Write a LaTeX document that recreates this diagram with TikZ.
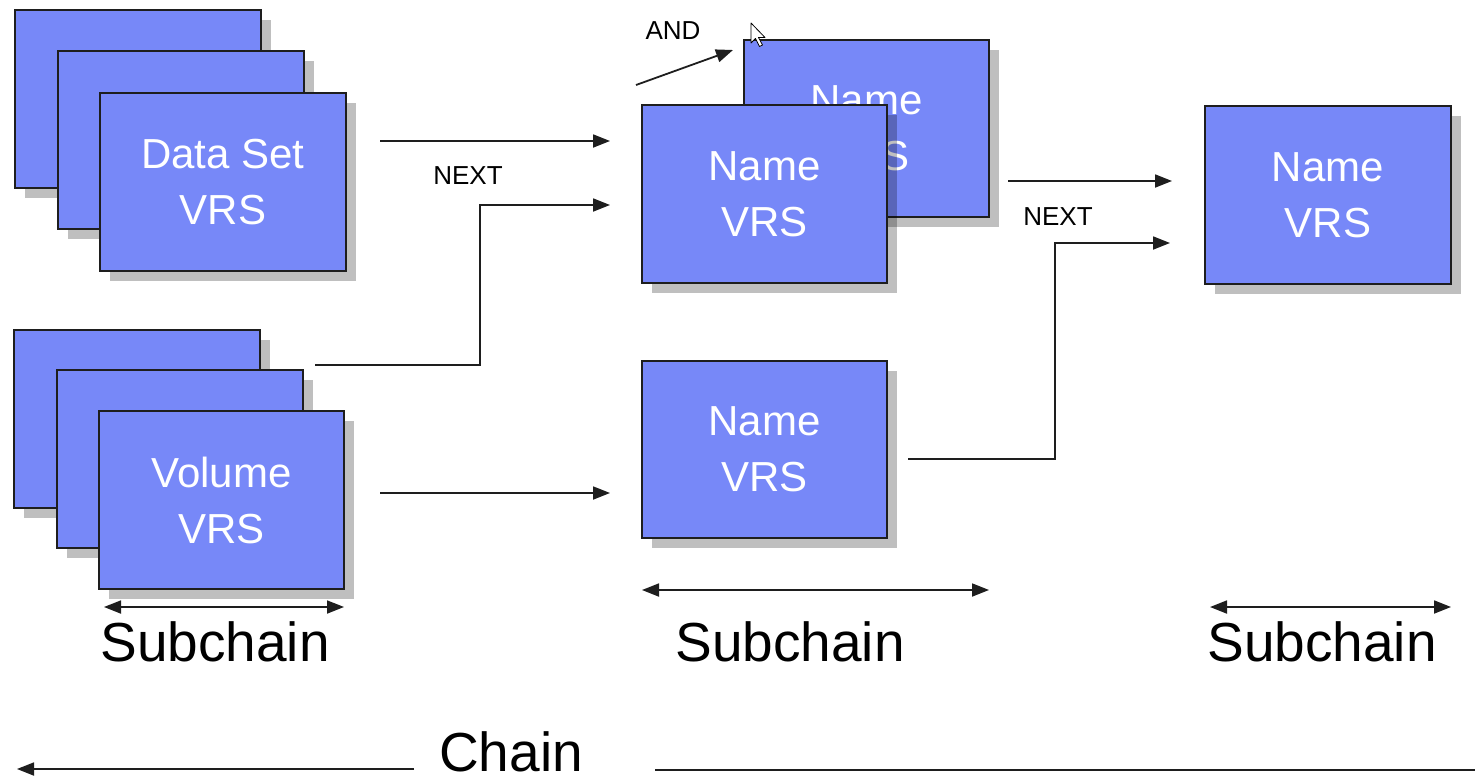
\documentclass[tikz,border=0pt]{standalone}
\usepackage{fontspec}
\setmainfont{Liberation Sans}
\usetikzlibrary{arrows.meta,shadows,calc}
\definecolor{boxblue}{RGB}{119,136,248}
\definecolor{linegray}{RGB}{30,30,30}
\begin{document}
\begin{tikzpicture}[x=1pt,y=-1pt,
  vrs/.style={draw=linegray, line width=1.4pt, fill=boxblue, text=white,
    anchor=north west, minimum width=246pt, minimum height=178pt,
    inner sep=0pt, outer sep=0pt, align=center,
    font=\fontsize{42}{56}\selectfont,
    drop shadow={shadow xshift=10pt, shadow yshift=-10pt, fill=black, opacity=0.25}},
  conn/.style={draw=linegray, line width=1.8pt, -{Triangle[length=17pt,width=13pt]}},
  spanarrow/.style={draw=linegray, line width=1.8pt,
    {Triangle[length=17pt,width=13pt]}-{Triangle[length=17pt,width=13pt]}},
  smalllabel/.style={font=\fontsize{26}{30}\selectfont, inner sep=0pt, text=black},
  biglabel/.style={font=\fontsize{55}{60}\selectfont, inner sep=0pt, anchor=base, text=black}]
\useasboundingbox (0,0) rectangle (1475,779);

% Data Set stack
\node[vrs] (ds1) at (15,10) {};
\node[vrs] (ds2) at (58,51) {};
\node[vrs] (ds3) at (100,93) {Data Set\\VRS};

% Volume stack
\node[vrs] (vol1) at (14,330) {};
\node[vrs] (vol2) at (57,370) {};
\node[vrs, minimum width=245pt] (vol3) at (99,411) {Volume\\VRS};

% middle subchain
\node[vrs, minimum width=245pt, minimum height=177pt] (nback) at (744,40) {Name\\VRS};
\node[vrs, minimum width=245pt] (nfront) at (642,105) {Name\\VRS};
\node[vrs, minimum width=245pt, minimum height=177pt] (nlow) at (642,361) {Name\\VRS};

% right subchain
\node[vrs] (nright) at (1205,106) {Name\\VRS};

% connectors
\coordinate (c1s) at (380,141);
\coordinate (c1e) at (610,141);
\draw[conn] (c1s) -- (c1e);
\node[smalllabel] (next1) at (468,176) {NEXT};

\coordinate (c2s) at (315,365);
\coordinate (c2e) at (610,205);
\draw[conn] (c2s) -- ++(165,0) |- (c2e);

\coordinate (c3s) at (380,493);
\coordinate (c3e) at (610,493);
\draw[conn] (c3s) -- (c3e);

\coordinate (c4s) at (636,85);
\coordinate (c4e) at (733,50);
\draw[conn] (c4s) -- (c4e);
\node[smalllabel] (andlbl) at (673,31) {AND};

\coordinate (c5s) at (1008,181);
\coordinate (c5e) at (1172,181);
\draw[conn] (c5s) -- (c5e);
\node[smalllabel] (next2) at (1058,217) {NEXT};

\coordinate (c6s) at (908,459);
\coordinate (c6e) at (1170,243);
\draw[conn] (c6s) -- ++(147,0) |- (c6e);

% subchain spans
\coordinate (s1a) at (104,607);
\coordinate (s1b) at (344,607);
\draw[spanarrow] (s1a) -- (s1b);
\node[biglabel] (sub1) at (215,661) {Subchain};

\coordinate (s2a) at (642,590);
\coordinate (s2b) at (989,590);
\draw[spanarrow] (s2a) -- (s2b);
\node[biglabel] (sub2) at (790,661) {Subchain};

\coordinate (s3a) at (1210,607);
\coordinate (s3b) at (1451,607);
\draw[spanarrow] (s3a) -- (s3b);
\node[biglabel] (sub3) at (1322,661) {Subchain};

% chain
\node[biglabel] (chain) at (511,771) {Chain};
\coordinate (chl1) at (414,769);
\coordinate (chl2) at (17,769);
\draw[conn] (chl1) -- (chl2);
\coordinate (chr1) at (655,770);
\coordinate (chr2) at (1492,770);
\draw[conn] (chr1) -- (chr2);

% mouse pointer
\draw[fill=white, draw=black, line width=0.8pt, line join=round]
  (751,23) -- ++(0,20) -- ++(4.5,-4.5) -- ++(4,8) -- ++(3,-1.5)
  -- ++(-4,-7.5) -- ++(6.5,0) -- cycle;
\end{tikzpicture}
\end{document}
